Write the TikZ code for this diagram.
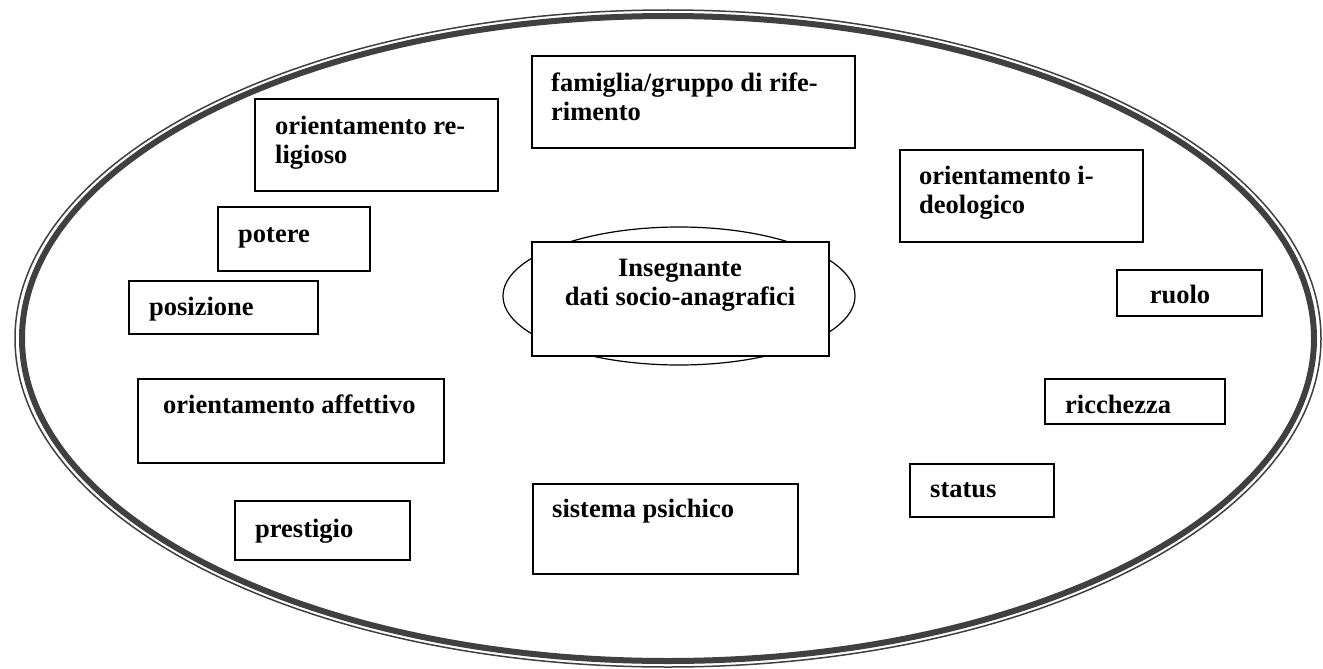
\documentclass[tikz,border=0pt]{standalone}
\usepackage{fontspec}
\setmainfont{Liberation Serif}
\usetikzlibrary{positioning,shapes.geometric}

\begin{document}
\begin{tikzpicture}[x=1pt,y=-1pt,
  cell/.style={draw,line width=1.6pt,fill=white,inner sep=0pt,anchor=north west},
  txt/.style={font=\bfseries\fontsize{26.5}{29}\selectfont,inner sep=0pt,align=left,anchor=base west}]
  \useasboundingbox[fill=white] (0,0) rectangle (1323,669);
  % outer frame: thin rim outside, heavy rim inside
  \draw[line width=1.5pt,black!75] (668,338.5) ellipse [x radius=653pt,y radius=328.5pt];
  \draw[line width=6pt,black!75] (668,338.5) ellipse [x radius=646pt,y radius=322.5pt];

  % centre: teacher (base of a two-line node sits on its last line)
  \node[draw,ellipse,line width=1.2pt,minimum width=352pt,minimum height=138pt] (core) at (679,296) {};
  \node[cell,minimum width=297pt,minimum height=114pt] (teach) at (531,241) {};
  \node[txt,align=center,anchor=base] (teach-t) at ([shift={(149,64)}]teach.north west) {Insegnante\\dati socio-anagrafici};

  % surrounding factors
  \node[cell,minimum width=323pt,minimum height=92pt] (fam) at (531,55) {};
  \node[txt] (fam-t) at ([shift={(20,66)}]fam.north west) {famiglia/gruppo di rife-\\rimento};
  \node[cell,minimum width=243pt,minimum height=92pt] (rel) at (254,98) {};
  \node[txt] (rel-t) at ([shift={(21,65)}]rel.north west) {orientamento re-\\ligioso};
  \node[cell,minimum width=243pt,minimum height=92pt] (ideo) at (899,149) {};
  \node[txt] (ideo-t) at ([shift={(20,64)}]ideo.north west) {orientamento i-\\deologico};
  \node[cell,minimum width=152pt,minimum height=64pt] (pot) at (217,206) {};
  \node[txt] (pot-t) at ([shift={(21,36)}]pot.north west) {potere};
  \node[cell,minimum width=189pt,minimum height=53pt] (pos) at (128,280) {};
  \node[txt] (pos-t) at ([shift={(21,35)}]pos.north west) {posizione};
  \node[cell,minimum width=145pt,minimum height=46pt] (role) at (1116,269) {};
  \node[txt,anchor=base] (role-t) at ([shift={(64,34)}]role.north west) {ruolo};
  \node[cell,minimum width=306pt,minimum height=84pt] (aff) at (137,378) {};
  \node[txt] (aff-t) at ([shift={(26,35)}]aff.north west) {orientamento affettivo};
  \node[cell,minimum width=180pt,minimum height=45pt] (rich) at (1044,378) {};
  \node[txt] (rich-t) at ([shift={(21,35)}]rich.north west) {ricchezza};
  \node[cell,minimum width=144pt,minimum height=53pt] (stat) at (909,463) {};
  \node[txt] (stat-t) at ([shift={(21,34)}]stat.north west) {status};
  \node[cell,minimum width=175pt,minimum height=59pt] (prest) at (234,500) {};
  \node[txt] (prest-t) at ([shift={(21,37)}]prest.north west) {prestigio};
  \node[cell,minimum width=265pt,minimum height=90pt] (psy) at (532,483) {};
  \node[txt] (psy-t) at ([shift={(20,34)}]psy.north west) {sistema psichico};
\end{tikzpicture}
\end{document}
